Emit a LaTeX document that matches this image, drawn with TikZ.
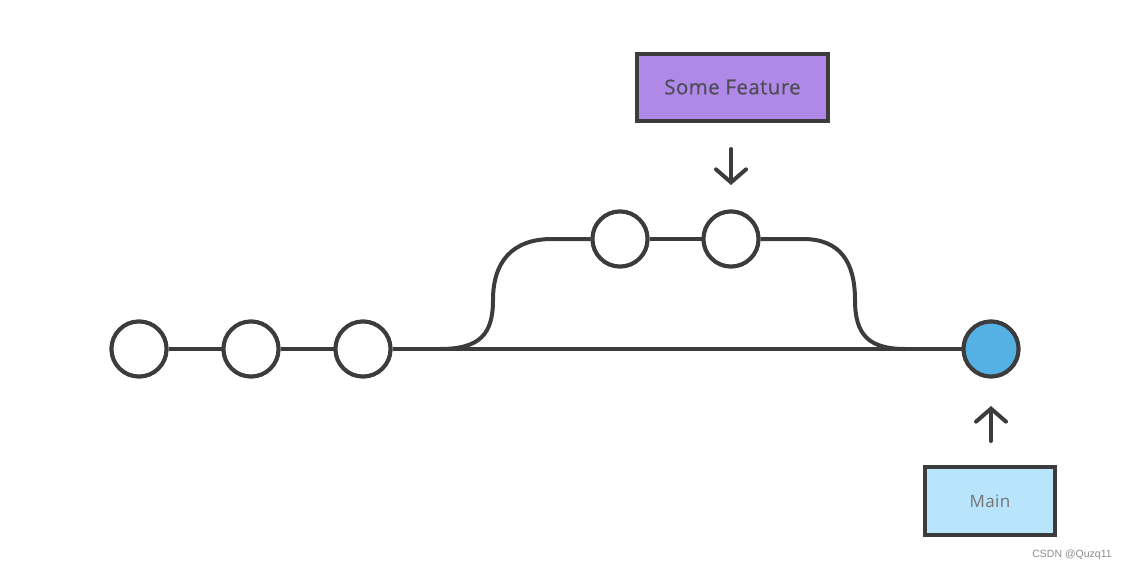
\documentclass[tikz,border=0pt]{standalone}
\usepackage{fontspec}
\setmainfont{Open Sans}
\usetikzlibrary{arrows.meta}
\definecolor{ink}{HTML}{3C3C3C}
\definecolor{featfill}{HTML}{B088E8}
\definecolor{mainfill}{HTML}{B8E4FC}
\definecolor{headfill}{HTML}{55B0E3}
\definecolor{txt}{HTML}{4E4E58}
\tikzset{
  commit/.style={circle, draw=ink, line width=4pt, fill=white, minimum size=55pt, inner sep=0pt},
  headcommit/.style={commit, fill=headfill},
  link/.style={draw=ink, line width=4pt},
  labelbox/.style={draw=ink, line width=4pt, text=txt, font=\fontsize{20.5}{22}\selectfont, inner sep=0pt},
  pointer/.style={draw=ink, line width=4pt, line cap=round, -{Straight Barb[length=13pt,width=30pt,line cap=round]}}
}
\begin{document}
\begin{tikzpicture}[x=1pt,y=-1pt]
\useasboundingbox (0,0) rectangle (1129,570);
% main line commits
\node[commit] (c1) at (139,349) {};
\node[commit] (c2) at (251,349) {};
\node[commit] (c3) at (363,349) {};
\node[headcommit] (m) at (991,349) {};
% feature commits
\node[commit] (f1) at (620,239) {};
\node[commit] (f2) at (731,239) {};
\coordinate (fork) at (440,349);
\coordinate (join) at (905,349);
% connectors
\draw[link] (c1) -- (c2);
\draw[link] (c2) -- (c3);
\draw[link] (c3) -- (m);
\draw[link] (fork) .. controls (480,349) and (493,334) .. (493,300)
  .. controls (493,262) and (512,239) .. (552,239) -- (f1);
\draw[link] (f1) -- (f2);
\draw[link] (f2) -- (803,239) .. controls (840,239) and (855,262) .. (855,300)
  .. controls (855,334) and (868,349) .. (join);
% redraw circles on top
\node[commit] at (c1) {};
\node[commit] at (c2) {};
\node[commit] at (c3) {};
\node[commit] at (f1) {};
\node[commit] at (f2) {};
\node[headcommit] at (m) {};
% labels
\node[labelbox, fill=featfill, minimum width=191pt, minimum height=67pt] (feat) at (732.5,87) {\addfontfeatures{FakeBold=0.6,LetterSpace=2}Some Feature};
\node[labelbox, fill=mainfill, minimum width=130pt, minimum height=68pt, font=\fontsize{17}{19}\selectfont, text=black!55] (mainlbl) at (990,501) {\addfontfeatures{LetterSpace=2}Main};
\coordinate (fa) at (731,149);
\coordinate (fb) at (731,185);
\draw[pointer] (fa) -- (fb);
\coordinate (ma) at (991,441);
\coordinate (mb) at (991,406);
\draw[pointer] (ma) -- (mb);
% watermark
\node[text=black!45, anchor=center] (wm) at (1072,555) {\fontspec{Liberation Sans}\fontsize{10.5}{12}\selectfont CSDN @Quzq11};
\end{tikzpicture}
\end{document}
